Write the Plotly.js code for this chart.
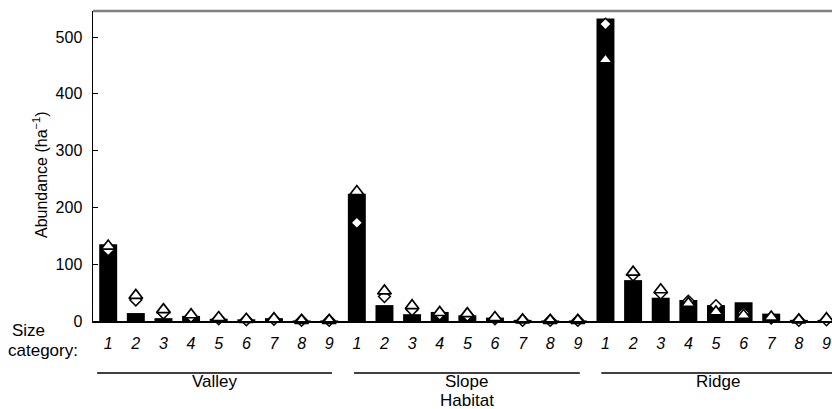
<!DOCTYPE html>
<html>
<head>
<meta charset="utf-8">
<script src="https://cdn.plot.ly/plotly-3.0.1.min.js"></script>
<style>html,body{margin:0;padding:0;background:#fff;}#chart{width:832px;height:409px;}</style>
</head>
<body>
<div id="chart"></div>
<script>
// ---- data ----
const sizeCategories = ['1','2','3','4','5','6','7','8','9'];
const habitats = ['Valley', 'Slope', 'Ridge'];
const barValley = [135, 14, 5, 9, 4, 3, 5, 1, 1];
const barSlope  = [224, 28, 12, 16, 10, 6, 2, 1, 1];
const barRidge  = [533, 72, 41, 37, 28, 33, 13, 2, 2];
const triValley = [132, 45, 20, 11, 6, 3, 4, 1, 1];
const triSlope  = [228, 53, 27, 15, 13, 6, 2, 1, 1];
const triRidge  = [460, 86, 55, 31, 16, 10, 7, 2, 4];
const diaValley = [125, 37, 14, 8, 4, 2, 3, 1, 1];
const diaSlope  = [173, 43, 20, 12, 10, 4, 1, 1, 1];
const diaRidge  = [523, 81, 49, 35, 27, 14, 5, 1, 2];
const yTickVals = [0, 100, 200, 300, 400, 500];

// ---- build ----
const nC = sizeCategories.length;
const xs = [], tickText = [];
habitats.forEach((h, g) => sizeCategories.forEach((c, i) => { xs.push(g * nC + i); tickText.push(c); }));
const bars = [].concat(barValley, barSlope, barRidge);
const tris = [].concat(triValley, triSlope, triRidge);
const dias = [].concat(diaValley, diaSlope, diaRidge);

const FONT = 'Liberation Sans, Arial, sans-serif';
const L = 93, T = 11, W = 739, H = 310;
const px = v => (v - L) / W;      // pixel x -> paper
const py = v => (T + H - v) / H;  // pixel y -> paper
const txt = (s) => ({family: FONT, size: s, color: '#000'});

const traces = [
  {type: 'bar', x: xs, y: bars, width: 0.65, marker: {color: '#000', line: {width: 0}}, hoverinfo: 'skip'},
  {type: 'scatter', mode: 'markers', x: xs, y: dias, cliponaxis: false,
   marker: {symbol: 'diamond', size: 9, color: '#fff', line: {color: '#000', width: 1.5}}},
  {type: 'scatter', mode: 'markers', x: xs, y: tris, cliponaxis: false,
   marker: {symbol: 'triangle-up', size: 12, color: '#fff', line: {color: '#000', width: 1.7}}}
];

const shapes = [
  {type: 'line', xref: 'paper', yref: 'paper', x0: 0, x1: 1, y0: 1, y1: 1, line: {color: '#808080', width: 2.5}}
];
const groupLine = [[-0.4, 8.1], [-0.1, 8.07], [-0.15, 8.3]];
const annotations = [
  {xref: 'paper', yref: 'paper', x: px(10), y: py(330), xanchor: 'left', yanchor: 'middle', text: 'Size', showarrow: false, font: txt(17)},
  {xref: 'paper', yref: 'paper', x: px(6), y: py(350), xanchor: 'left', yanchor: 'middle', text: 'category:', showarrow: false, font: txt(17)},
  {xref: 'paper', yref: 'paper', x: px(40), y: py(175), xanchor: 'center', yanchor: 'middle', textangle: -90, text: 'Abundance (ha<sup>−1</sup>)', showarrow: false, font: txt(16)}
];
habitats.forEach((h, g) => {
  const x0 = g * nC + groupLine[g][0], x1 = g * nC + groupLine[g][1];
  shapes.push({type: 'line', xref: 'x', yref: 'paper', x0: x0, x1: x1, y0: py(373), y1: py(373), line: {color: '#000', width: 1.5}});
  annotations.push({xref: 'x', yref: 'paper', x: (x0 + x1) / 2, y: py(381), xanchor: 'center', yanchor: 'middle', text: h, showarrow: false, font: txt(17)});
});
annotations.push({xref: 'x', yref: 'paper', x: nC + (groupLine[1][0] + groupLine[1][1]) / 2, y: py(400), xanchor: 'center', yanchor: 'middle', text: 'Habitat', showarrow: false, font: txt(17)});

const layout = {
  width: 832, height: 409,
  margin: {l: L, r: 832 - L - W, t: T, b: 409 - T - H, pad: 0},
  paper_bgcolor: '#fff', plot_bgcolor: '#fff',
  showlegend: false,
  font: txt(16),
  xaxis: {
    range: [-0.55, 26.2], tickvals: xs, ticktext: tickText,
    tickfont: {family: FONT, size: 16, color: '#000', style: 'italic'},
    ticks: '', showgrid: false, zeroline: false,
    showline: true, linecolor: '#000', linewidth: 1.5, ticklabelstandoff: 7
  },
  yaxis: {
    range: [0, 546], tickvals: yTickVals, ticks: 'inside', ticklen: 5, tickcolor: '#000', tickwidth: 1,
    showgrid: false, zeroline: false, showline: true, linecolor: '#000', linewidth: 1.5,
    tickfont: txt(16), ticklabelstandoff: 6
  },
  shapes: shapes, annotations: annotations
};

Plotly.newPlot('chart', traces, layout, {displayModeBar: false, staticPlot: true});
</script>
</body>
</html>
